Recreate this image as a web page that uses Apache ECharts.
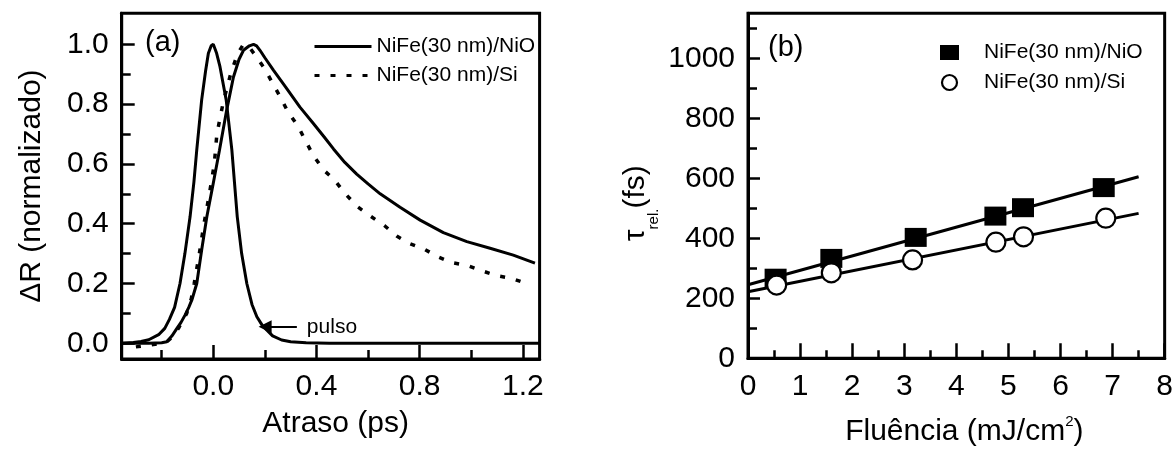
<!DOCTYPE html>
<html><head><meta charset="utf-8">
<script src="https://cdn.jsdelivr.net/npm/echarts@6/dist/echarts.min.js"></script>
<style>html,body{margin:0;padding:0;background:#fff}#c{width:1176px;height:454px}</style>
</head><body><div id="c"></div>
<script>
const FONT = '"Liberation Sans", Arial, sans-serif';

// ---------- Panel (a): transient reflectivity ----------
const pulseX = [-0.355,-0.31,-0.28,-0.25,-0.21,-0.188,-0.17,-0.15,-0.129,-0.11,-0.09,-0.075,-0.064,-0.045,-0.03,-0.019,-0.008,0.0,0.006,0.013,0.026,0.05,0.072,0.082,0.093,0.11,0.13,0.15,0.169,0.19,0.207,0.23,0.265,0.3,0.36,0.45,0.6,0.8,1.0,1.265];
const pulseY = [0,0.003,0.006,0.012,0.03,0.05,0.08,0.12,0.2,0.3,0.423,0.54,0.647,0.814,0.91,0.97,0.995,1.0,0.995,0.97,0.925,0.814,0.647,0.54,0.423,0.3,0.2,0.13,0.089,0.06,0.045,0.025,0.011,0.005,0.002,0,0,0,0,0];

const nioX = [-0.355,-0.25,-0.2,-0.18,-0.16,-0.141,-0.125,-0.109,-0.095,-0.083,-0.064,-0.045,-0.025,0.0,0.024,0.052,0.078,0.1,0.117,0.14,0.156,0.168,0.181,0.2,0.233,0.28,0.336,0.388,0.43,0.466,0.51,0.556,0.6,0.647,0.724,0.802,0.892,0.983,1.073,1.163,1.247];
const nioY = [0,0,0.002,0.005,0.025,0.05,0.07,0.095,0.12,0.145,0.2,0.312,0.423,0.535,0.646,0.78,0.89,0.95,0.98,0.995,1.0,0.995,0.98,0.955,0.914,0.858,0.79,0.735,0.69,0.65,0.605,0.566,0.533,0.5,0.455,0.412,0.37,0.34,0.318,0.295,0.268];

const siX = [-0.3,-0.184,-0.16,-0.135,-0.103,-0.085,-0.074,-0.054,-0.036,-0.015,0.004,0.014,0.039,0.068,0.095,0.117,0.14,0.162,0.198,0.23,0.259,0.289,0.33,0.356,0.388,0.427,0.468,0.51,0.556,0.608,0.663,0.711,0.76,0.818,0.869,0.924,0.985,1.04,1.099,1.157,1.215];
const siY = [-0.012,0.002,0.02,0.05,0.1,0.15,0.2,0.3,0.4,0.5,0.6,0.7,0.808,0.903,0.97,1.0,0.99,0.964,0.92,0.87,0.825,0.775,0.724,0.68,0.628,0.58,0.548,0.502,0.459,0.426,0.394,0.359,0.334,0.315,0.29,0.27,0.26,0.243,0.226,0.217,0.2];

const arrowX = [0.324, 0.201];
const arrowY = 0.0555;

const aXRange = [-0.355, 1.265];
const aYRange = [-0.0525, 1.1037];
const aXLabels = [0, 0.4, 0.8, 1.2];
const aXMinor = [-0.2, 0.2, 0.6, 1.0];
const aYLabels = [0, 0.2, 0.4, 0.6, 0.8, 1.0];
const aYMinor = [0.1, 0.3, 0.5, 0.7, 0.9];

// ---------- Panel (b): relaxation time vs fluence ----------
const fluNiO = [0.53, 1.60, 3.22, 4.75, 5.28, 6.83];
const tauNiO = [267, 333, 403, 474, 502, 569];
const fluSi = [0.55, 1.60, 3.16, 4.76, 5.29, 6.87];
const tauSi = [244, 285, 328, 387, 405, 467];
const fitX = [0, 7.5];
const fitNiO = [245, 605];
const fitSi = [222, 483];

const bXRange = [0, 8];
const bYRange = [0, 1150];
const bXLabels = [0, 1, 2, 3, 4, 5, 6, 7, 8];
const bXMinor = [0.5, 1.5, 2.5, 3.5, 4.5, 5.5, 6.5, 7.5];
const bYLabels = [0, 200, 400, 600, 800, 1000];
const bYMinor = [100, 300, 500, 700, 900, 1100];

const NAME_NIO = 'NiFe(30 nm)/NiO';
const NAME_SI = 'NiFe(30 nm)/Si';

const zip = (xs, ys) => xs.map((x, i) => [x, ys[i]]);
const txt = (size) => ({ fontSize: size, color: '#000', fontFamily: FONT });

function majorAxis(grid, range, labels, fmt, tickLen, extra) {
  return Object.assign({
    gridIndex: grid, type: 'value', min: range[0], max: range[1],
    axisLine: { show: true, onZero: false, lineStyle: { color: '#000', width: 3 } },
    axisTick: { show: true, inside: true, length: tickLen, customValues: labels, lineStyle: { color: '#000', width: 2.5 } },
    axisLabel: Object.assign({ show: true, customValues: labels, formatter: fmt, margin: 13 }, txt(30)),
    splitLine: { show: false }
  }, extra);
}
function minorAxis(grid, range, ticks, tickLen, position) {
  return {
    gridIndex: grid, type: 'value', min: range[0], max: range[1], position: position,
    axisLine: { show: false, onZero: false },
    axisTick: { show: true, inside: true, length: tickLen, customValues: ticks, lineStyle: { color: '#000', width: 2.5 } },
    axisLabel: { show: false }, splitLine: { show: false }
  };
}
const f1 = v => v.toFixed(1);
const f0 = v => String(Math.round(v));

const option = {
  animation: false,
  backgroundColor: '#fff',
  grid: [
    { left: 121.7, top: 13.3, width: 417.9, height: 345.7, show: true, borderColor: '#000', borderWidth: 3 },
    { left: 748, top: 13.3, width: 418, height: 345, show: true, borderColor: '#000', borderWidth: 3 }
  ],
  title: [
    { text: '(a)', left: 145, top: 28, padding: 0, textStyle: Object.assign({ fontWeight: 'normal' }, txt(29)) },
    { text: '(b)', left: 768, top: 33, padding: 0, textStyle: Object.assign({ fontWeight: 'normal' }, txt(29)) }
  ],
  legend: [
    {
      orient: 'vertical', left: 308, top: 31, itemWidth: 57, itemHeight: 20, itemGap: 8,
      selectedMode: false, data: [NAME_NIO, NAME_SI],
      lineStyle: { width: 3 },
      itemStyle: { opacity: 0 },
      textStyle: Object.assign({ lineHeight: 20 }, txt(21))
    },
    {
      orient: 'vertical', left: 935, top: 37, itemWidth: 19, itemHeight: 15, itemGap: 9,
      selectedMode: false,
      data: [
        { name: NAME_NIO, icon: 'rect', itemStyle: { color: '#000', borderWidth: 0, opacity: 1 } },
        { name: NAME_SI, icon: 'circle', itemStyle: { color: '#fff', borderColor: '#000', borderWidth: 2.2, opacity: 1 } }
      ],
      textStyle: Object.assign({ padding: [0, 0, 0, 20] }, txt(21))
    }
  ],
  xAxis: [
    majorAxis(0, aXRange, aXLabels, f1, 14, {
      position: 'bottom', name: 'Atraso (ps)', nameLocation: 'middle', nameGap: 50,
      nameTextStyle: Object.assign({ padding: [0, 0, 0, 10] }, txt(30))
    }),
    minorAxis(0, aXRange, aXMinor, 9, 'bottom'),
    majorAxis(1, bXRange, bXLabels, f0, 15, {
      position: 'bottom', name: '{t|Fluência (mJ/cm}{s|2}{t|)}', nameLocation: 'middle', nameGap: 56,
      nameTextStyle: Object.assign({
        padding: [0, 0, 0, 16],
        rich: {
          t: { fontSize: 30, fontFamily: FONT, color: '#000', lineHeight: 32, verticalAlign: 'bottom' },
          s: { fontSize: 15, fontFamily: FONT, color: '#000', lineHeight: 15, verticalAlign: 'top' }
        }
      }, txt(30))
    }),
    minorAxis(1, bXRange, bXMinor, 8, 'bottom')
  ],
  yAxis: [
    majorAxis(0, aYRange, aYLabels, f1, 13, {
      position: 'left', name: 'ΔR (normalizado)', nameLocation: 'middle', nameGap: 75,
      nameTextStyle: txt(30)
    }),
    minorAxis(0, aYRange, aYMinor, 9, 'left'),
    majorAxis(1, bYRange, bYLabels, f0, 12, {
      position: 'left', name: '{t|τ}{s|rel.}{t|(fs)}', nameLocation: 'middle', nameGap: 87,
      nameTextStyle: Object.assign({
        padding: [0, 35, 0, 0],
        rich: {
          t: { fontSize: 30, fontFamily: FONT, color: '#000', lineHeight: 30, verticalAlign: 'top' },
          s: { fontSize: 15, fontFamily: FONT, color: '#000', lineHeight: 40, verticalAlign: 'bottom' }
        }
      }, txt(30))
    }),
    minorAxis(1, bYRange, bYMinor, 9, 'left')
  ],
  series: [
    {
      type: 'line', name: NAME_NIO, xAxisIndex: 0, yAxisIndex: 0, data: zip(nioX, nioY),
      symbol: 'none', silent: true, lineStyle: { color: '#000', width: 3 }, itemStyle: { color: '#000' }
    },
    {
      type: 'line', name: NAME_SI, xAxisIndex: 0, yAxisIndex: 0, data: zip(siX, siY),
      symbol: 'none', silent: true, lineStyle: { color: '#000', width: 3.5, type: [5, 11] }, itemStyle: { color: '#000' }
    },
    {
      type: 'line', name: 'pulso', xAxisIndex: 0, yAxisIndex: 0, data: zip(pulseX, pulseY),
      symbol: 'none', silent: true, lineStyle: { color: '#000', width: 3 }, itemStyle: { color: '#000' },
      markLine: {
        silent: true, symbol: ['none', 'triangle'], symbolSize: 13,
        lineStyle: { color: '#000', width: 2, type: 'solid' },
        label: Object.assign({ show: true, position: 'start', formatter: 'pulso', distance: 10 }, txt(21)),
        data: [[{ coord: [arrowX[0], arrowY] }, { coord: [arrowX[1], arrowY] }]]
      }
    },
    {
      type: 'line', name: 'ajuste NiO', xAxisIndex: 2, yAxisIndex: 2, data: zip(fitX, fitNiO),
      symbol: 'none', silent: true, lineStyle: { color: '#000', width: 3 }
    },
    {
      type: 'line', name: 'ajuste Si', xAxisIndex: 2, yAxisIndex: 2, data: zip(fitX, fitSi),
      symbol: 'none', silent: true, lineStyle: { color: '#000', width: 3 }
    },
    {
      type: 'scatter', name: NAME_NIO, xAxisIndex: 2, yAxisIndex: 2, data: zip(fluNiO, tauNiO),
      symbol: 'rect', symbolSize: [22, 19], silent: true, itemStyle: { color: '#000', opacity: 1 }, z: 5
    },
    {
      type: 'scatter', name: NAME_SI, xAxisIndex: 2, yAxisIndex: 2, data: zip(fluSi, tauSi),
      symbol: 'circle', symbolSize: 19, silent: true, itemStyle: { color: '#fff', borderColor: '#000', borderWidth: 2.2, opacity: 1 }, z: 5
    }
  ]
};

const chart = echarts.init(document.getElementById('c'), null, { renderer: 'canvas' });
chart.setOption(option);
</script>
</body></html>
